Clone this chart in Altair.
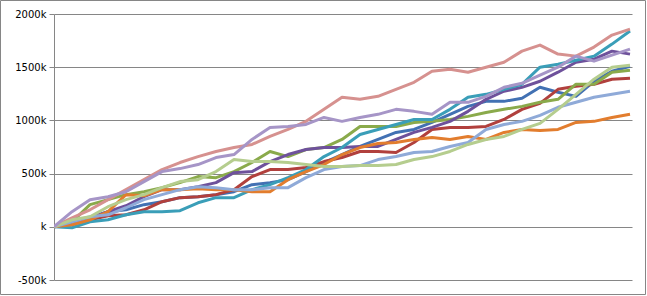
import altair as alt
import pandas as pd

# x index of samples (33 samples across the run)
steps = list(range(33))

pink = [0, 85, 160, 255, 349, 443, 538, 604, 660, 708, 745, 774, 849, 915, 991, 1104, 1217, 1198, 1226, 1292, 1358, 1462, 1481, 1453, 1500, 1547, 1651, 1708, 1623, 1604, 1689, 1802, 1858]
lavender = [0, 142, 255, 283, 330, 425, 519, 547, 585, 651, 679, 821, 934, 943, 962, 1028, 991, 1028, 1057, 1104, 1085, 1057, 1170, 1170, 1226, 1311, 1349, 1425, 1500, 1604, 1557, 1613, 1670]
teal = [0, -9, 47, 66, 113, 142, 142, 151, 226, 274, 274, 349, 396, 462, 538, 660, 745, 868, 915, 962, 1009, 1009, 1104, 1217, 1245, 1292, 1340, 1500, 1528, 1566, 1604, 1717, 1840]
purple = [0, 19, 85, 142, 198, 283, 349, 349, 377, 415, 509, 519, 613, 679, 726, 745, 745, 755, 755, 821, 887, 934, 991, 1085, 1198, 1274, 1311, 1368, 1453, 1547, 1575, 1651, 1623]
green = [0, 47, 208, 255, 302, 330, 368, 415, 472, 462, 519, 604, 708, 660, 726, 745, 821, 943, 943, 943, 981, 991, 1009, 1038, 1075, 1104, 1132, 1170, 1198, 1340, 1340, 1453, 1472]
blue = [0, 47, 85, 142, 160, 208, 236, 274, 283, 302, 330, 396, 415, 443, 519, 604, 679, 755, 821, 887, 915, 981, 1057, 1132, 1179, 1179, 1208, 1311, 1264, 1226, 1368, 1462, 1509]
red = [0, 28, 66, 104, 113, 160, 236, 274, 283, 302, 349, 472, 538, 538, 557, 613, 651, 708, 708, 698, 792, 915, 934, 934, 943, 1009, 1104, 1160, 1292, 1321, 1340, 1387, 1396]
orange = [0, 19, 66, 142, 302, 292, 349, 349, 358, 349, 349, 330, 330, 443, 519, 585, 679, 745, 783, 792, 821, 840, 821, 849, 821, 887, 915, 906, 915, 981, 991, 1028, 1057]
lightgreen = [0, 66, 94, 189, 255, 302, 368, 425, 443, 519, 632, 613, 613, 604, 585, 566, 566, 575, 575, 585, 632, 660, 708, 774, 821, 849, 915, 972, 1104, 1245, 1387, 1500, 1519]
lightblue = [0, 47, 94, 113, 179, 255, 302, 349, 377, 368, 349, 349, 368, 368, 462, 538, 566, 575, 632, 660, 698, 708, 755, 792, 915, 962, 991, 1047, 1123, 1170, 1217, 1245, 1274]

series_names = ["blue", "red", "green", "purple", "teal", "orange",
                "lightblue", "pink", "lightgreen", "lavender"]
series_values = [blue, red, green, purple, teal, orange,
                 lightblue, pink, lightgreen, lavender]
series_colors = ["#4271B3", "#B1403D", "#8AAA4B", "#6E519B", "#3A9EB8", "#E27D2E",
                 "#8FAAD8", "#D6918F", "#B5CD8E", "#A695C7"]

y_ticks = [-500, 0, 500, 1000, 1500, 2000]

rows = []
for name, vals in zip(series_names, series_values):
    for s, v in zip(steps, vals):
        rows.append({"series": name, "step": s, "value": v})
df = pd.DataFrame(rows)
df["order"] = df["series"].map({n: i for i, n in enumerate(series_names)})

W, H = 578, 266

lines = alt.Chart(df).mark_line(strokeWidth=3, strokeJoin="round", clip=True).encode(
    x=alt.X("step:Q", scale=alt.Scale(domain=[0, 32 * 578 / 576], nice=False, zero=False), axis=None),
    y=alt.Y("value:Q", scale=alt.Scale(domain=[-500, 2000], nice=False),
            axis=alt.Axis(values=y_ticks, title=None, grid=True, gridColor="#868686",
                          gridWidth=1, domainColor="#868686", tickColor="#868686",
                          tickSize=5, labelPadding=3, labelFont="DejaVu Sans",
                          labelFontSize=10, labelColor="#000000",
                          labelExpr="datum.value == 0 ? 'k' : datum.value + 'k'")),
    color=alt.Color("series:N", scale=alt.Scale(domain=series_names, range=series_colors), legend=None),
    detail="series:N",
    order=alt.Order("step:Q"),
)

frame = alt.Chart(pd.DataFrame({"a": [0]})).mark_rect(
    fill=None, stroke="#868686", strokeWidth=1, clip=False
).encode(
    x=alt.value(-53.5), x2=alt.value(591.5), y=alt.value(-13.5), y2=alt.value(280.5)
)

chart = alt.layer(lines, frame).properties(
    width=W, height=H,
    padding={"left": 54, "top": 14, "right": 15, "bottom": 16},
    autosize=alt.AutoSizeParams(type="none"),
    background="white",
).configure_view(stroke=None)

chart.save("out.html", embed_options={"renderer": "svg", "actions": False})
